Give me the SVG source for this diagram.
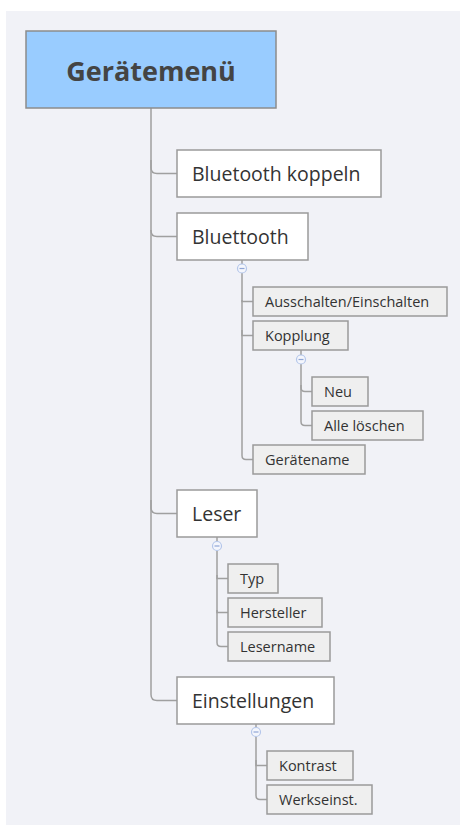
<svg xmlns="http://www.w3.org/2000/svg" width="460" height="825" viewBox="0 0 460 825">
<style>
.bg{fill:#f1f2f7}
.root{fill:#99ccff;stroke:#8c8c8c;stroke-width:1.5}
.rt{font-family:"Open Sans","Liberation Sans",sans-serif;font-weight:bold;font-size:27px;fill:#444;text-anchor:middle}
.main{fill:#fff;stroke:#9a9a9a;stroke-width:1.5}
.mt{font-family:"Open Sans","Liberation Sans",sans-serif;font-size:19.5px;fill:#333}
.sub{fill:#efefef;stroke:#9a9a9a;stroke-width:1.5}
.st{font-family:"Open Sans","Liberation Sans",sans-serif;font-size:14.5px;fill:#333}
.c{fill:none;stroke:#a0a0a0;stroke-width:1.5}
.tog{fill:#f4f6fc;stroke:#b4c6ea;stroke-width:1.2}
.tm{stroke:#8fa6d6;stroke-width:1.2}
</style>
<rect x="0" y="0" width="460" height="825" fill="#fff"/>
<rect class="bg" x="6" y="11" width="454" height="814"/>
<g id="connectors">
<path class="c" d="M151,108 V167.5 Q151,173.5 157,173.5 H177"/>
<path class="c" d="M151,160 V230.5 Q151,236.5 157,236.5 H177"/>
<path class="c" d="M151,230 V507.5 Q151,513.5 157,513.5 H177"/>
<path class="c" d="M151,500 V694.5 Q151,700.5 157,700.5 H177"/>
<path class="c" d="M242,260 V264"/>
<path class="c" d="M242,273 V301.5 H253"/>
<path class="c" d="M242,300 V335.5 H253"/>
<path class="c" d="M242,330 V455.5 Q242,459.5 246,459.5 H253"/>
<path class="c" d="M301,350 V355"/>
<path class="c" d="M301,364 V387.5 Q301,391.5 305,391.5 H312"/>
<path class="c" d="M301,385 V421.5 Q301,425.5 305,425.5 H312"/>
<path class="c" d="M217,537 V541"/>
<path class="c" d="M217,551 V578.5 H228"/>
<path class="c" d="M217,575 V612.5 H228"/>
<path class="c" d="M217,610 V642.5 Q217,646.5 221,646.5 H228"/>
<path class="c" d="M256,724 V727"/>
<path class="c" d="M256,737 V765.5 H267"/>
<path class="c" d="M256,760 V795.5 Q256,799.5 260,799.5 H267"/>
</g>
<g id="root"><rect class="root" x="26" y="31" width="250" height="77"/><text class="rt" x="151" y="81">Gerätemenü</text></g>
<g id="bluetooth-koppeln"><rect class="main" x="177" y="150" width="204" height="47"/><text class="mt" x="192" y="181">Bluetooth koppeln</text></g>
<g id="bluettooth"><rect class="main" x="177" y="213" width="131" height="47"/><text class="mt" x="192" y="244">Bluettooth</text></g>
<g id="toggle-bluettooth"><circle class="tog" cx="242" cy="268.5" r="4.5"/><line class="tm" x1="239.5" y1="268.5" x2="244.5" y2="268.5"/></g>
<g id="ausschalten"><rect class="sub" x="253" y="287" width="194" height="29"/><text class="st" x="265" y="307">Ausschalten/Einschalten</text></g>
<g id="kopplung"><rect class="sub" x="253" y="321" width="95" height="29"/><text class="st" x="265" y="341">Kopplung</text></g>
<g id="toggle-kopplung"><circle class="tog" cx="301" cy="359.5" r="4.5"/><line class="tm" x1="298.5" y1="359.5" x2="303.5" y2="359.5"/></g>
<g id="neu"><rect class="sub" x="312" y="377" width="56" height="29"/><text class="st" x="324" y="397">Neu</text></g>
<g id="alle-loeschen"><rect class="sub" x="312" y="411" width="111" height="29"/><text class="st" x="324" y="431">Alle löschen</text></g>
<g id="geraetename"><rect class="sub" x="253" y="445" width="112" height="29"/><text class="st" x="265" y="465">Gerätename</text></g>
<g id="leser"><rect class="main" x="177" y="490" width="80" height="47"/><text class="mt" x="192" y="521">Leser</text></g>
<g id="toggle-leser"><circle class="tog" cx="217" cy="546" r="4.5"/><line class="tm" x1="214.5" y1="546" x2="219.5" y2="546"/></g>
<g id="typ"><rect class="sub" x="228" y="564" width="50" height="29"/><text class="st" x="240" y="584">Typ</text></g>
<g id="hersteller"><rect class="sub" x="228" y="598" width="94" height="29"/><text class="st" x="240" y="618">Hersteller</text></g>
<g id="lesername"><rect class="sub" x="228" y="632" width="102" height="29"/><text class="st" x="240" y="652">Lesername</text></g>
<g id="einstellungen"><rect class="main" x="177" y="677" width="157" height="47"/><text class="mt" x="192" y="708">Einstellungen</text></g>
<g id="toggle-einstellungen"><circle class="tog" cx="256" cy="732" r="4.5"/><line class="tm" x1="253.5" y1="732" x2="258.5" y2="732"/></g>
<g id="kontrast"><rect class="sub" x="267" y="751" width="86" height="29"/><text class="st" x="279" y="771">Kontrast</text></g>
<g id="werkseinst"><rect class="sub" x="267" y="785" width="105" height="29"/><text class="st" x="279" y="805">Werkseinst.</text></g>
</svg>
